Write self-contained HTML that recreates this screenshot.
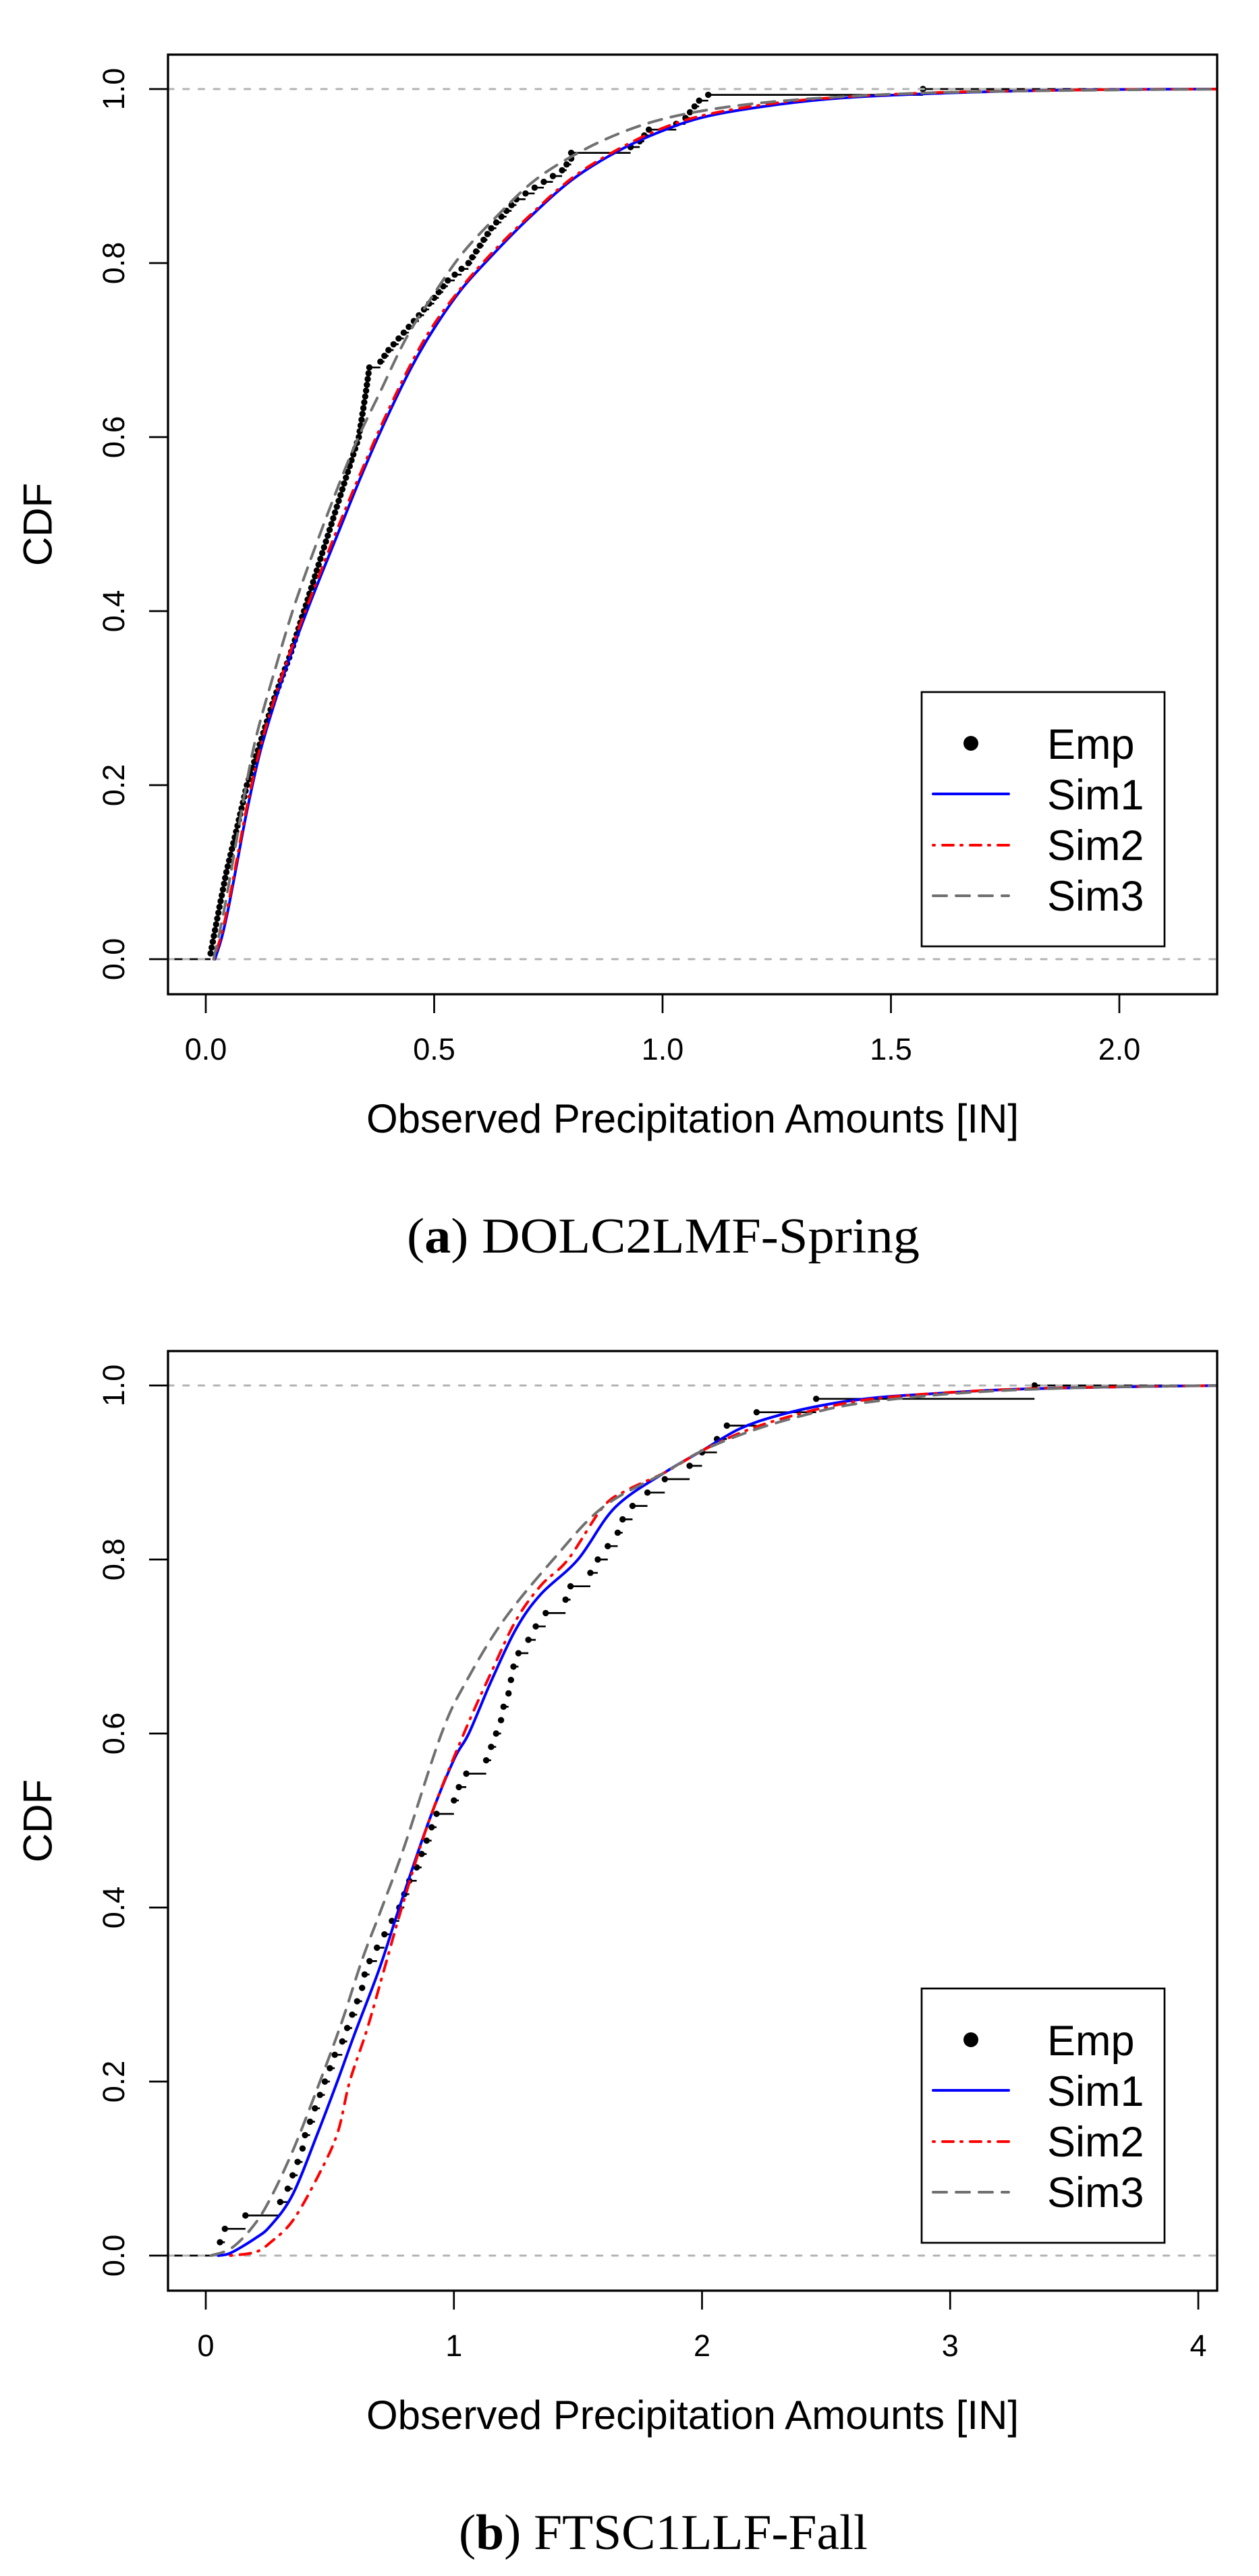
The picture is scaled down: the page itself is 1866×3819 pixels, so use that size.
<!DOCTYPE html>
<html>
<head>
<meta charset="utf-8">
<style>
html,body{margin:0;padding:0;background:#fff;}
svg{display:block;}
.t{font-family:"Liberation Sans",Arial,sans-serif;fill:#000;}
.s{font-family:"Liberation Serif","Times New Roman",serif;fill:#000;}
</style>
</head>
<body>
<svg id="svg" xmlns="http://www.w3.org/2000/svg" width="1866" height="3819" viewBox="0 0 1866 3819">
<defs>
<clipPath id="c1"><rect x="249" y="81" width="1555" height="1393"/></clipPath>
<clipPath id="c2"><rect x="249" y="2003" width="1555" height="1393"/></clipPath>
</defs>
<rect x="0" y="0" width="1866" height="3819" fill="#fff"/>

<!-- ============ TOP PLOT ============ -->
<g clip-path="url(#c1)">
  <g id="e1"></g>
  <g stroke="#b3b3b3" stroke-width="3" stroke-linecap="round" stroke-dasharray="8.2 14.5" fill="none">
    <path d="M249,1422H1804"/>
    <path d="M249,132H1804"/>
  </g>
  <g id="s1"></g>
</g>
<rect x="249" y="81" width="1555" height="1393" fill="none" stroke="#000" stroke-width="3.3"/>
<g stroke="#000" stroke-width="2.7" fill="none">
  <path d="M221,1422H249M221,1164H249M221,906H249M221,648H249M221,390H249M221,132H249"/>
  <path d="M305,1474V1502M643.5,1474V1502M982,1474V1502M1320.5,1474V1502M1659,1474V1502"/>
</g>
<g class="t" font-size="45" text-anchor="middle">
  <text transform="translate(184,1422) rotate(-90)">0.0</text>
  <text transform="translate(184,1164) rotate(-90)">0.2</text>
  <text transform="translate(184,906) rotate(-90)">0.4</text>
  <text transform="translate(184,648) rotate(-90)">0.6</text>
  <text transform="translate(184,390) rotate(-90)">0.8</text>
  <text transform="translate(184,132) rotate(-90)">1.0</text>
  <text x="305" y="1571">0.0</text>
  <text x="643.5" y="1571">0.5</text>
  <text x="982" y="1571">1.0</text>
  <text x="1320.5" y="1571">1.5</text>
  <text x="1659" y="1571">2.0</text>
</g>
<g class="t" font-size="60" text-anchor="middle">
  <text transform="translate(76.5,777.5) rotate(-90)">CDF</text>
  <text x="1026.5" y="1679">Observed Precipitation Amounts [IN]</text>
</g>
<!-- legend top -->
<rect x="1366" y="1026" width="360" height="377" fill="#fff" stroke="#000" stroke-width="2.7"/>
<circle cx="1439" cy="1102" r="11" fill="#000"/>
<path d="M1383,1177H1495" stroke="#0000ff" stroke-width="4" stroke-linecap="round"/>
<path d="M1383,1253H1495" stroke="#ff0000" stroke-width="4" stroke-linecap="round" stroke-dasharray="2 12 16 11"/>
<path d="M1383,1328H1495" stroke="#707070" stroke-width="4" stroke-linecap="round" stroke-dasharray="20 14"/>
<g class="t" font-size="63">
  <text x="1552" y="1125">Emp</text>
  <text x="1552" y="1200">Sim1</text>
  <text x="1552" y="1275">Sim2</text>
  <text x="1552" y="1350">Sim3</text>
</g>
<text class="s" x="603" y="1857" font-size="74" textLength="760" lengthAdjust="spacingAndGlyphs">(<tspan font-weight="bold">a</tspan>) DOLC2LMF-Spring</text>

<!-- ============ BOTTOM PLOT ============ -->
<g clip-path="url(#c2)">
  <g id="e2"></g>
  <g stroke="#b3b3b3" stroke-width="3" stroke-linecap="round" stroke-dasharray="8.2 14.5" fill="none">
    <path d="M249,3344H1804"/>
    <path d="M249,2054H1804"/>
  </g>
  <g id="s2"></g>
</g>
<rect x="249" y="2003" width="1555" height="1393" fill="none" stroke="#000" stroke-width="3.3"/>
<g stroke="#000" stroke-width="2.7" fill="none">
  <path d="M221,3344H249M221,3086H249M221,2828H249M221,2570H249M221,2312H249M221,2054H249"/>
  <path d="M305,3396V3424M672.75,3396V3424M1040.5,3396V3424M1408.25,3396V3424M1776,3396V3424"/>
</g>
<g class="t" font-size="45" text-anchor="middle">
  <text transform="translate(184,3344) rotate(-90)">0.0</text>
  <text transform="translate(184,3086) rotate(-90)">0.2</text>
  <text transform="translate(184,2828) rotate(-90)">0.4</text>
  <text transform="translate(184,2570) rotate(-90)">0.6</text>
  <text transform="translate(184,2312) rotate(-90)">0.8</text>
  <text transform="translate(184,2054) rotate(-90)">1.0</text>
  <text x="305" y="3493">0</text>
  <text x="672.75" y="3493">1</text>
  <text x="1040.5" y="3493">2</text>
  <text x="1408.25" y="3493">3</text>
  <text x="1776" y="3493">4</text>
</g>
<g class="t" font-size="60" text-anchor="middle">
  <text transform="translate(76.5,2699.5) rotate(-90)">CDF</text>
  <text x="1026.5" y="3601">Observed Precipitation Amounts [IN]</text>
</g>
<!-- legend bottom -->
<rect x="1366" y="2948" width="360" height="377" fill="#fff" stroke="#000" stroke-width="2.7"/>
<circle cx="1439" cy="3024" r="11" fill="#000"/>
<path d="M1383,3099H1495" stroke="#0000ff" stroke-width="4" stroke-linecap="round"/>
<path d="M1383,3175H1495" stroke="#ff0000" stroke-width="4" stroke-linecap="round" stroke-dasharray="2 12 16 11"/>
<path d="M1383,3250H1495" stroke="#707070" stroke-width="4" stroke-linecap="round" stroke-dasharray="20 14"/>
<g class="t" font-size="63">
  <text x="1552" y="3047">Emp</text>
  <text x="1552" y="3122">Sim1</text>
  <text x="1552" y="3197">Sim2</text>
  <text x="1552" y="3272">Sim3</text>
</g>
<text class="s" x="680" y="3779" font-size="74" textLength="606" lengthAdjust="spacingAndGlyphs">(<tspan font-weight="bold">b</tspan>) FTSC1LLF-Fall</text>
</svg>

<script>
(function(){
var NS="http://www.w3.org/2000/svg";
function el(tag,attrs,parent){var e=document.createElementNS(NS,tag);for(var k in attrs)e.setAttribute(k,attrs[k]);parent.appendChild(e);return e;}
function f(v){return (Math.round(v*10)/10).toString();}
function smooth(pts){
  var d="M"+f(pts[0][0])+","+f(pts[0][1]);
  for(var i=0;i<pts.length-1;i++){
    var p0=pts[Math.max(i-1,0)],p1=pts[i],p2=pts[i+1],p3=pts[Math.min(i+2,pts.length-1)];
    var c1x=p1[0]+(p2[0]-p0[0])/6,c1y=p1[1]+(p2[1]-p0[1])/6;
    var c2x=p2[0]-(p3[0]-p1[0])/6,c2y=p2[1]-(p3[1]-p1[1])/6;
    d+=" C"+f(c1x)+","+f(c1y)+" "+f(c2x)+","+f(c2y)+" "+f(p2[0])+","+f(p2[1]);
  }
  return d;
}
function quant(ctrl,p){
  for(var i=0;i<ctrl.length-1;i++){
    if(p<=ctrl[i+1][0]){var a=ctrl[i],b=ctrl[i+1];return a[1]+(p-a[0])/(b[0]-a[0])*(b[1]-a[1]);}
  }
  return ctrl[ctrl.length-1][1];
}
function plot(cfg){
  var X=function(v){return cfg.x0+cfg.sx*v;}, Y=function(p){return cfg.y0-1290*p;};
  var e=document.getElementById(cfg.eid);
  var xs=cfg.emp,n=xs.length;
  var d="M"+cfg.left+","+f(Y(0))+" H"+f(X(xs[0]));
  for(var i=0;i<n;i++){
    var p=(i+1)/n;var xe=(i<n-1)?X(xs[i+1]):cfg.right;
    d+=" M"+f(X(xs[i]))+","+f(Y(p))+" H"+f(xe);
  }
  el("path",{d:d,stroke:"#000","stroke-width":"2.7",fill:"none"},e);
  for(var j=0;j<n;j++){el("circle",{cx:f(X(xs[j])),cy:f(Y((j+1)/n)),r:"4.7",fill:"#000"},e);}
  var s=document.getElementById(cfg.sid);
  var styles=[{stroke:"#0000ff"},{stroke:"#ff0000","stroke-dasharray":"2 12 16 11"},{stroke:"#707070","stroke-dasharray":"20 14"}];
  cfg.sims.forEach(function(c,k){
    var pts=c.map(function(q){return [X(q[0]),Y(q[1])];});
    var a={d:smooth(pts),fill:"none","stroke-width":"4","stroke-linecap":"round","stroke-linejoin":"round"};
    for(var kk in styles[k])a[kk]=styles[k][kk];
    el("path",a,s);
  });
}

/* ---- top plot data ---- */
var ctrlTop=[[0,0.008],[0.06,0.03],[0.1,0.045],[0.15,0.068],[0.2,0.09],[0.25,0.12],[0.3,0.15],[0.35,0.185],[0.4,0.215],[0.45,0.245],[0.5,0.275],[0.55,0.305],[0.6,0.335],[0.65,0.35],[0.68,0.358],[0.685,0.38],[0.7,0.4],[0.73,0.45],[0.76,0.5],[0.78,0.53],[0.8,0.575],[0.84,0.625],[0.873,0.68]];
var empTop=[];var N=150;
for(var i=1;i<=130;i++){empTop.push(quant(ctrlTop,i/N));}
empTop=empTop.concat([0.68,0.70,0.72,0.74,0.76,0.78,0.79,0.80,0.80,0.93,0.95,0.96,0.97,1.03,1.05,1.06,1.07,1.08,1.10,1.57]);

var blueTop=[[0.02,0],[0.035,0.025],[0.05,0.06],[0.07,0.115],[0.09,0.17],[0.12,0.24],[0.16,0.31],[0.2,0.37],[0.24,0.425],[0.29,0.49],[0.34,0.555],[0.39,0.615],[0.45,0.68],[0.5,0.725],[0.56,0.77],[0.62,0.805],[0.7,0.848],[0.8,0.895],[0.9,0.928],[1.0,0.952],[1.1,0.969],[1.25,0.982],[1.4,0.99],[1.6,0.995],[1.8,0.998],[2.0,0.9995],[2.25,1]];
var redTop=[[0.018,0],[0.035,0.03],[0.05,0.065],[0.07,0.12],[0.09,0.175],[0.12,0.245],[0.16,0.315],[0.2,0.375],[0.24,0.43],[0.29,0.497],[0.34,0.56],[0.39,0.62],[0.45,0.685],[0.5,0.73],[0.56,0.772],[0.62,0.808],[0.7,0.85],[0.8,0.897],[0.9,0.93],[1.0,0.955],[1.1,0.971],[1.25,0.984],[1.4,0.991],[1.6,0.996],[1.8,0.998],[2.0,0.9995],[2.25,1]];
var grayTop=[[0.017,0],[0.03,0.03],[0.045,0.07],[0.065,0.13],[0.085,0.19],[0.11,0.255],[0.15,0.33],[0.19,0.4],[0.23,0.46],[0.28,0.53],[0.33,0.595],[0.38,0.65],[0.44,0.715],[0.5,0.765],[0.56,0.81],[0.63,0.85],[0.72,0.895],[0.82,0.928],[0.92,0.952],[1.02,0.968],[1.15,0.98],[1.3,0.988],[1.5,0.994],[1.7,0.997],[2.0,0.999],[2.25,1]];

plot({x0:305,sx:677,y0:1422,left:249,right:1804,eid:"e1",sid:"s1",emp:empTop,sims:[blueTop,redTop,grayTop]});

/* ---- bottom plot data ---- */
var empBot=[0.057,0.077,0.16,0.30,0.33,0.35,0.37,0.39,0.40,0.42,0.44,0.46,0.48,0.50,0.52,0.55,0.57,0.59,0.61,0.63,0.64,0.66,0.69,0.72,0.75,0.78,0.80,0.82,0.85,0.87,0.89,0.91,0.93,1.00,1.02,1.05,1.13,1.15,1.17,1.19,1.20,1.22,1.23,1.24,1.26,1.30,1.33,1.37,1.45,1.47,1.55,1.58,1.62,1.66,1.68,1.72,1.78,1.85,1.95,2.00,2.06,2.10,2.22,2.46,3.34];

var blueBot=[[0.05,0],[0.1,0.003],[0.2,0.02],[0.26,0.034],[0.35,0.07],[0.45,0.14],[0.53,0.2],[0.6,0.255],[0.7,0.33],[0.78,0.4],[0.9,0.5],[1.0,0.57],[1.06,0.6],[1.15,0.66],[1.25,0.72],[1.35,0.76],[1.5,0.8],[1.65,0.86],[1.85,0.9],[2.0,0.925],[2.15,0.95],[2.3,0.965],[2.5,0.978],[2.7,0.986],[2.9,0.99],[3.2,0.995],[3.6,0.998],[4.1,1]];
var redBot=[[0.1,0],[0.2,0.004],[0.26,0.015],[0.35,0.04],[0.45,0.09],[0.53,0.14],[0.58,0.2],[0.65,0.26],[0.72,0.33],[0.79,0.4],[0.9,0.5],[1.04,0.6],[1.15,0.67],[1.25,0.73],[1.35,0.77],[1.46,0.8],[1.6,0.86],[1.7,0.88],[1.85,0.9],[2.0,0.925],[2.15,0.945],[2.3,0.96],[2.5,0.975],[2.7,0.985],[3.0,0.992],[3.4,0.997],[4.1,1]];
var grayBot=[[0.02,0],[0.1,0.008],[0.18,0.03],[0.25,0.06],[0.35,0.12],[0.46,0.2],[0.55,0.27],[0.63,0.34],[0.71,0.4],[0.8,0.47],[0.95,0.6],[1.05,0.66],[1.2,0.73],[1.4,0.8],[1.6,0.86],[1.85,0.9],[2.0,0.925],[2.2,0.948],[2.4,0.965],[2.6,0.978],[2.9,0.988],[3.2,0.994],[3.6,0.998],[4.1,1]];

plot({x0:305,sx:367.75,y0:3344,left:249,right:1804,eid:"e2",sid:"s2",emp:empBot,sims:[blueBot,redBot,grayBot]});
})();
</script>
</body>
</html>
